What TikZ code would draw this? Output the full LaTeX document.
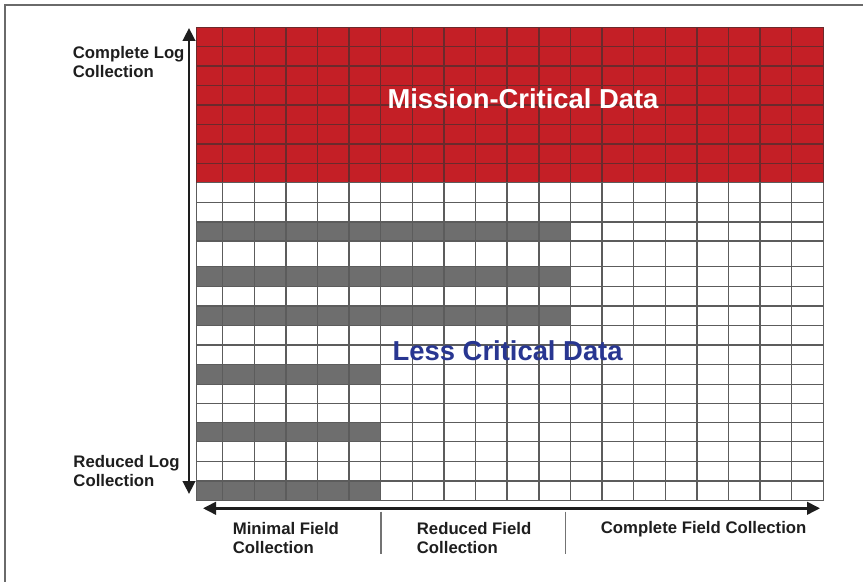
\documentclass[tikz,border=0pt]{standalone}
\usepackage{fontspec}
\setmainfont{Liberation Sans}
\usetikzlibrary{arrows.meta}
\definecolor{critred}{HTML}{C41F26}
\definecolor{redline}{HTML}{6B2A2C}
\definecolor{bargray}{HTML}{6E6E6E}
\definecolor{gridgray}{HTML}{5C5C5C}
\definecolor{navyblue}{HTML}{283691}
\definecolor{framegray}{HTML}{6A6A6A}
\definecolor{labelink}{HTML}{1E1E1E}
\begin{document}
\begin{tikzpicture}[x=1bp,y=-1bp,
  gridline/.style={gridgray,line width=1.4bp},
  redgrid/.style={redline,line width=1.4bp},
  axisarrow/.style={line width=2.6bp,labelink,{Triangle[length=13bp,width=12.5bp]}-{Triangle[length=13bp,width=12.5bp]}},
  divider/.style={draw=gray!90!black,line width=1.3bp},
  axislabel/.style={inner sep=0pt,anchor=base west,align=left,text=labelink,font=\fontsize{16.8}{19}\selectfont\bfseries},
  bigtitle/.style={inner sep=0pt,anchor=base west,font=\fontsize{27.5}{32}\selectfont\bfseries}]
\useasboundingbox (0,0) rectangle (863,582);
\fill[white] (0,0) rectangle (863,582);
% frame
\draw[framegray,line width=1.8bp] (5,582) -- (5,5) -- (863,5);
% red region
\fill[critred] (196.7,27.3) rectangle (823.3,182.7);
% gray bars
\foreach \ya/\yb in {222/241,266.7/286.7,306/325.7}
  \fill[bargray] (196.7,\ya) rectangle (570,\yb);
\foreach \ya/\yb in {364.3/384.3,422.7/441.7,481/500.7}
  \fill[bargray] (196.7,\ya) rectangle (381,\yb);
% red grid
\foreach \k in {0,...,8}
  \draw[redgrid] (196.7,27.3+\k*19.425) -- (823.3,27.3+\k*19.425);
\draw[redgrid] (196.7,27.3) -- (196.7,182.7);
\foreach \k in {0,...,19}
  \draw[redgrid] (222.7+\k*31.61,27.3) -- (222.7+\k*31.61,182.7);
% white grid
\foreach \y in {182.7,202.7,222,241,266.7,286.7,306,325.7,345,364.3,384.3,403.3,422.7,441.7,461.7,481,500.7}
  \draw[gridline] (196.7,\y) -- (823.3,\y);
\draw[gridline] (196.7,182.7) -- (196.7,500.7);
\foreach \k in {0,...,19}
  \draw[gridline] (222.7+\k*31.61,182.7) -- (222.7+\k*31.61,500.7);
% titles
\node[bigtitle,text=white] (mission) at (387.3,109) {Mission-Critical Data};
\node[bigtitle,text=navyblue] (less) at (392.5,360) {Less Critical Data};
% axes
\coordinate (vtop) at (189,28);
\coordinate (vbot) at (189,494);
\coordinate (hleft) at (203,508.3);
\coordinate (hright) at (820,508.3);
\draw[axisarrow] (vtop) -- (vbot);
\draw[axisarrow] (hleft) -- (hright);
% axis labels (anchor = baseline of the last line)
\node[axislabel] (complog) at (72.7,77.7) {Complete Log\\Collection};
\node[axislabel] (redlog) at (73.3,486.7) {Reduced Log\\Collection};
\node[axislabel] (minfield) at (232.7,553.7) {Minimal Field\\Collection};
\node[axislabel] (redfield) at (416.7,553.7) {Reduced Field\\Collection};
\node[axislabel] (compfield) at (600.7,533.3) {Complete Field Collection};
% dividers
\coordinate (d1a) at (381,511.7);
\coordinate (d1b) at (381,554.3);
\coordinate (d2a) at (565.7,511.7);
\coordinate (d2b) at (565.7,554.3);
\draw[divider] (d1a) -- (d1b);
\draw[divider] (d2a) -- (d2b);
\end{tikzpicture}
\end{document}
